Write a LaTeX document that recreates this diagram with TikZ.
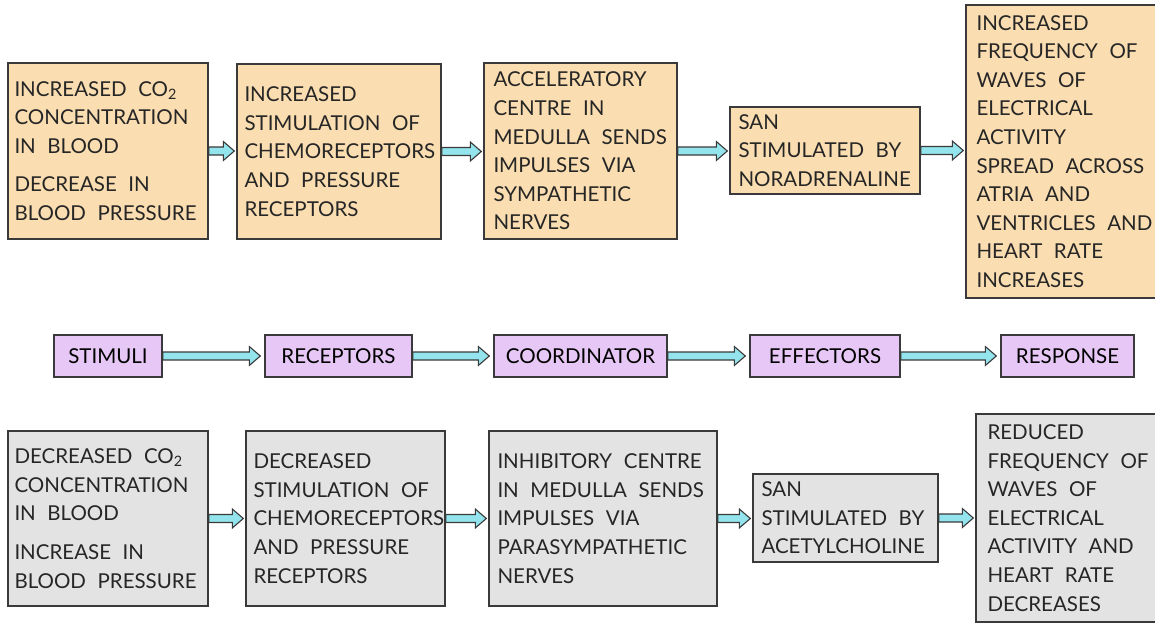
\documentclass[tikz,border=0pt]{standalone}
\usepackage{fontspec}
\setmainfont{Lato}[WordSpace=2.2]
\usetikzlibrary{calc}
\definecolor{orangefill}{HTML}{FADDB0}
\definecolor{purplefill}{HTML}{E6C7F5}
\definecolor{greyfill}{HTML}{E3E3E3}
\definecolor{arrowfill}{HTML}{93E4EC}
\definecolor{edge}{HTML}{3A3A3A}
\newcommand{\blockarr}[3][2pt]{%
  \draw[arrowsty] let \p1=(#2.east), \p2=(#3.west) in
  (\x1,\y1+4pt) -- (\x2-#1-11pt,\y1+4pt) -- (\x2-#1-11pt,\y1+9.5pt) -- (\x2-#1,\y1)
  -- (\x2-#1-11pt,\y1-9.5pt) -- (\x2-#1-11pt,\y1-4pt) -- (\x1,\y1-4pt) -- cycle;}
\tikzset{
  boxbase/.style={draw=edge, line width=1.4pt, rectangle, inner sep=0pt},
  obox/.style={boxbase, fill=orangefill},
  pbox/.style={boxbase, fill=purplefill, font=\fontsize{20.5}{24}\selectfont},
  gbox/.style={boxbase, fill=greyfill},
  txt/.style={anchor=west, align=left, inner sep=0pt, text=black!85,
    font=\fontsize{20.5}{28.6}\selectfont},
  arrowsty/.style={draw=edge, line width=1.1pt, fill=arrowfill, line join=miter}
}
\begin{document}
\begin{tikzpicture}[x=1pt,y=-1pt]
\useasboundingbox (0,0) rectangle (1155,623);
\fill[white] (0,0) rectangle (1155,623);
\begin{scope}
\clip (0,0) rectangle (1155,623);
% top row
\node[obox, minimum width=200pt, minimum height=176pt] (a1) at (108,151) {};
\node[obox, minimum width=204pt, minimum height=175pt] (a2) at (339,151.5) {};
\node[obox, minimum width=193pt, minimum height=176pt] (a3) at (580.5,151) {};
\node[obox, minimum width=190pt, minimum height=87pt] (a4) at (825,150.5) {};
\node[obox, minimum width=209pt, minimum height=293pt] (a5) at (1070.5,151.5) {};
\node[txt] (ta1) at ([xshift=7pt]a1.west) {INCREASED CO\textsubscript{2}\\CONCENTRATION\\IN BLOOD\\[10pt]DECREASE IN\\BLOOD PRESSURE};
\node[txt] (ta2) at ([xshift=8pt]a2.west) {INCREASED\\STIMULATION OF\\CHEMORECEPTORS\\AND PRESSURE\\RECEPTORS};
\node[txt] (ta3) at ([xshift=10pt]a3.west) {ACCELERATORY\\CENTRE IN\\MEDULLA SENDS\\IMPULSES VIA\\SYMPATHETIC\\NERVES};
\node[txt] (ta4) at ([xshift=9pt]a4.west) {SAN\\STIMULATED BY\\NORADRENALINE};
\node[txt] (ta5) at ([xshift=11pt]a5.west) {INCREASED\\FREQUENCY OF\\WAVES OF\\ELECTRICAL\\ACTIVITY\\SPREAD ACROSS\\ATRIA AND\\VENTRICLES AND\\HEART RATE\\INCREASES};
% middle row
\node[pbox, minimum width=108pt, minimum height=42pt] (m1) at (108,356) {STIMULI};
\node[pbox, minimum width=147pt, minimum height=42pt] (m2) at (338.5,356) {RECEPTORS};
\node[pbox, minimum width=173pt, minimum height=42pt] (m3) at (580.5,356) {COORDINATOR};
\node[pbox, minimum width=150pt, minimum height=42pt] (m4) at (825,356) {EFFECTORS};
\node[pbox, minimum width=133pt, minimum height=42pt] (m5) at (1067.5,356) {RESPONSE};
% bottom row
\node[gbox, minimum width=200pt, minimum height=175pt] (b1) at (108,518.5) {};
\node[gbox, minimum width=199pt, minimum height=175pt] (b2) at (345.5,518.5) {};
\node[gbox, minimum width=228pt, minimum height=175pt] (b3) at (603,518.5) {};
\node[gbox, minimum width=185pt, minimum height=88pt] (b4) at (845.5,518) {};
\node[gbox, minimum width=199pt, minimum height=208pt] (b5) at (1075.5,518) {};
\node[txt] (tb1) at ([xshift=7pt]b1.west) {DECREASED CO\textsubscript{2}\\CONCENTRATION\\IN BLOOD\\[10pt]INCREASE IN\\BLOOD PRESSURE};
\node[txt] (tb2) at ([xshift=8pt]b2.west) {DECREASED\\STIMULATION OF\\CHEMORECEPTORS\\AND PRESSURE\\RECEPTORS};
\node[txt] (tb3) at ([xshift=9pt]b3.west) {INHIBITORY CENTRE\\IN MEDULLA SENDS\\IMPULSES VIA\\PARASYMPATHETIC\\NERVES};
\node[txt] (tb4) at ([xshift=9pt]b4.west) {SAN\\STIMULATED BY\\ACETYLCHOLINE};
\node[txt] (tb5) at ([xshift=12pt]b5.west) {REDUCED\\FREQUENCY OF\\WAVES OF\\ELECTRICAL\\ACTIVITY AND\\HEART RATE\\DECREASES};
% arrows
\blockarr{a1}{a2}
\blockarr{a2}{a3}
\blockarr{a3}{a4}
\blockarr{a4}{a5}
\blockarr[4pt]{m1}{m2}
\blockarr[4pt]{m2}{m3}
\blockarr[4pt]{m3}{m4}
\blockarr[4pt]{m4}{m5}
\blockarr{b1}{b2}
\blockarr{b2}{b3}
\blockarr{b3}{b4}
\blockarr{b4}{b5}
\end{scope}
\end{tikzpicture}
\end{document}
